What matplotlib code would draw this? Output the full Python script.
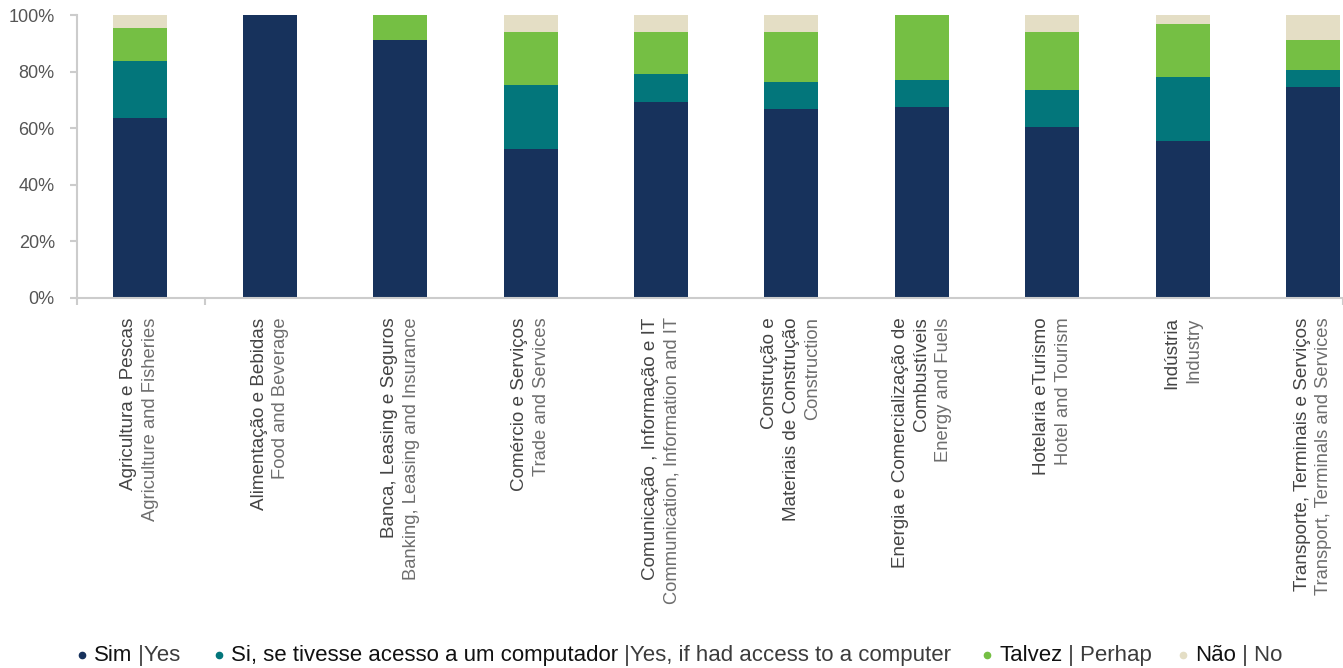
import matplotlib
matplotlib.use('Agg')
import matplotlib.pyplot as plt
from matplotlib.lines import Line2D
from matplotlib.ticker import PercentFormatter
import numpy as np

plt.rcParams['font.family'] = ['Liberation Sans', 'DejaVu Sans']

# sector names (portuguese / english)
sectors_pt = ["Agricultura e Pescas", "Alimentação e Bebidas", "Banca, Leasing e Seguros",
              "Comércio e Serviços", "Comunicação , Informação e IT",
              "Construção e\nMateriais de Construção",
              "Energia e Comercialização de\nCombustíveis", "Hotelaria eTurismo",
              "Indústria", "Transporte, Terminais e Serviços"]
sectors_en = ["Agriculture and Fisheries", "Food and Beverage", "Banking, Leasing and Insurance",
              "Trade and Services", "Communication, Information and IT", "Construction",
              "Energy and Fuels", "Hotel and Tourism", "Industry",
              "Transport, Terminals and Services"]

# answer shares (%)
sim = [63.7, 100.0, 91.2, 52.7, 69.3, 66.8, 67.5, 60.4, 55.5, 74.6]
si_computador = [20.0, 0.0, 0.0, 22.6, 9.9, 9.5, 9.5, 13.1, 22.6, 6.0]
talvez = [11.7, 0.0, 8.8, 18.7, 14.8, 17.7, 23.0, 20.5, 18.7, 10.6]
nao = [4.6, 0.0, 0.0, 6.0, 6.0, 6.0, 0.0, 6.0, 3.2, 8.8]

series = [sim, si_computador, talvez, nao]
colors = ['#17325c', '#03767b', '#75bf44', '#e4dec5']
legend_bold = ["Sim", "Si, se tivesse acesso a um computador", "Talvez", "Não"]
legend_light = [" |Yes", " |Yes, if had access to a computer", " | Perhap", " | No"]

W, H = 1343, 668
fig = plt.figure(figsize=(W / 100, H / 100), dpi=100)
ax = fig.add_axes([77 / W, (H - 298) / H, 1 - 77 / W, 283 / H])

x = np.arange(len(sim))
bottom = np.zeros(len(sim))
for vals, c in zip(series, colors):
    v = np.array(vals) / 100
    ax.bar(x, v, width=0.414, bottom=bottom, color=c, linewidth=0, zorder=2)
    bottom += v

ax.set_xlim(-0.48, 9.23)
ax.set_ylim(0, 1)
ax.set_yticks(np.arange(0, 1.01, 0.2))
ax.yaxis.set_major_formatter(PercentFormatter(1, decimals=0))
ax.tick_params(axis='y', length=5, width=1.5, color='#cccccc', labelcolor='#555555',
               labelsize=13, pad=11)
ax.set_xticks(x)
ax.set_xticklabels([])
ax.tick_params(axis='x', which='major', length=0)
ax.set_xticks([-0.48, 0.5, 9.23], minor=True)
ax.tick_params(axis='x', which='minor', length=5, width=1.5, color='#cccccc')
for s in ['top', 'right']:
    ax.spines[s].set_visible(False)
for s in ['left', 'bottom']:
    ax.spines[s].set_color('#cccccc')
    ax.spines[s].set_linewidth(1.5)

# rotated two-tone category labels, block centred on each bar
lh = 21.5 * 0.72
for i in x:
    lines = sectors_pt[i].split('\n') + [sectors_en[i]]
    n = len(lines)
    for k, t in enumerate(lines):
        english = k == n - 1
        ax.annotate(t, xy=(i, 0), xycoords=('data', 'axes fraction'),
                    xytext=((k - (n - 1) / 2) * lh, -14), textcoords='offset points',
                    rotation=90, rotation_mode='anchor', ha='right', va='center',
                    fontsize=13.2 if english else 13.6,
                    color='#6e6e6e' if english else '#444444')

# legend along the bottom
fig.canvas.draw()
r = fig.canvas.get_renderer()
legend_x = [82, 219, 987, 1183]
ybase = (H - 661) / H
for lx, c, b, l in zip(legend_x, colors, legend_bold, legend_light):
    fig.add_artist(Line2D([lx / W], [(H - 655) / H], marker='o', markersize=4.5,
                          color=c, linestyle='none', transform=fig.transFigure))
    t1 = fig.text((lx + 12) / W, ybase, b, fontsize=16, color='#111111', va='baseline')
    bb = t1.get_window_extent(r)
    fig.text(bb.x1 / W, ybase, l, fontsize=16, color='#3c3c3c', va='baseline')

fig.savefig('out.png', dpi=100)
